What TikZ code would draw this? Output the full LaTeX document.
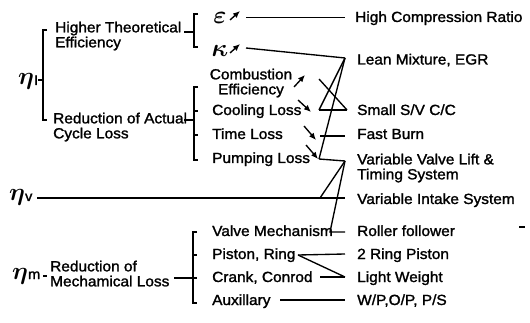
\documentclass[tikz,border=0pt]{standalone}
\usepackage{fontspec}
\setmainfont{Liberation Sans}[FakeBold=1.5, FakeStretch=1.05]
\usetikzlibrary{arrows.meta}
\begin{document}
\begin{tikzpicture}[x=1pt,y=-1pt,
  lbl/.style={inner sep=0pt, anchor=base west, font=\fontsize{14.7}{14.7}\selectfont},
  two/.style={inner sep=0pt, anchor=north west, align=left, font=\fontsize{14.7}{15}\selectfont},
  ln/.style={line width=1.35pt},
  arr/.style={line width=1.35pt, -{Latex[length=7pt,width=6pt]}},
  etanode/.style={inner sep=0pt, anchor=base west},
  greek/.style={inner sep=0pt, font=\fontsize{25}{25}\selectfont\boldmath}
]
\useasboundingbox (0,0) rectangle (530,323);

% ---------- eta_i ----------
\node[etanode] (etai) at (18,85) {{\fontsize{24}{24}\selectfont\boldmath$\eta$}{\fontsize{14}{14}\selectfont I}};
\coordinate (etaiT) at (38,80);
\coordinate (b1m) at (43,80);
\coordinate (b1t) at (43,30);
\coordinate (b1tt) at (47,30);
\coordinate (b1b) at (43,120);
\coordinate (b1bb) at (47,120);
\draw[ln] (etaiT) -- (b1m);
\draw[ln] (b1tt) -- (b1t) -- (b1b) -- (b1bb);

\node[two] (hte) at (55,21.5) {Higher Theoretical\\Efficiency};
\coordinate (hteT) at (184,32);
\coordinate (b2m) at (194,32);
\coordinate (b2t) at (194,14);
\coordinate (b2tt) at (198,14);
\coordinate (b2b) at (194,47);
\coordinate (b2bb) at (198,47);
\draw[ln] (hteT) -- (b2m);
\draw[ln] (b2tt) -- (b2t) -- (b2b) -- (b2bb);

\node[greek] (eps) at (220,18) {$\varepsilon$};
\node[greek] (kap) at (220,51) {$\kappa$};
\coordinate (epsA0) at (230,20);
\coordinate (epsA1) at (240,11);
\coordinate (kapA0) at (230,53);
\coordinate (kapA1) at (240,44);
\draw[arr] (epsA0) -- (epsA1);
\draw[arr] (kapA0) -- (kapA1);

\node[lbl] (hcr) at (355,22) {High Compression Ratio};
\node[lbl] (lean) at (357,64.5) {Lean Mixture, EGR};
\coordinate (epsL) at (246,17.5);
\coordinate (hcrL) at (345,17.5);
\draw[ln] (epsL) -- (hcrL);
\coordinate (kapL) at (246,48);
\coordinate (T) at (345,58);
\draw[ln] (kapL) -- (T);

% ---------- actual cycle loss ----------
\node[two] (roa) at (53,112.5) {Reduction of Actual\\Cycle Loss};
\coordinate (roaT) at (184,120);
\coordinate (b3m) at (194,120);
\coordinate (b3t) at (194,87);
\coordinate (b3tt) at (198,87);
\coordinate (b3b) at (194,160);
\coordinate (b3bb) at (198,160);
\coordinate (b3c) at (194,111);
\coordinate (b3cc) at (198,111);
\coordinate (b3d) at (194,135);
\coordinate (b3dd) at (198,135);
\draw[ln] (roaT) -- (b3m);
\draw[ln] (b3tt) -- (b3t) -- (b3b) -- (b3bb);
\draw[ln] (b3c) -- (b3cc);
\draw[ln] (b3d) -- (b3dd);

\node[inner sep=0pt, anchor=north, align=center, font=\fontsize{14.7}{15}\selectfont] (ce) at (251,68.5) {Combustion\\Efficiency};
\node[lbl] (cool) at (212,115) {Cooling Loss};
\node[lbl] (time) at (212,139) {Time Loss};
\node[lbl] (pump) at (212,163) {Pumping Loss};

\coordinate (ceA0) at (294,87);
\coordinate (ceA1) at (305,75);
\coordinate (coA0) at (298,100);
\coordinate (coA1) at (311,112);
\coordinate (tiA0) at (304,126);
\coordinate (tiA1) at (316,140);
\coordinate (puA0) at (306,145);
\coordinate (puA1) at (318,159);
\draw[arr] (ceA0) -- (ceA1);
\draw[arr] (coA0) -- (coA1);
\draw[arr] (tiA0) -- (tiA1);
\draw[arr] (puA0) -- (puA1);

\coordinate (TL) at (319,110);
\coordinate (TR) at (347,110);
\coordinate (X1) at (319,79);
\coordinate (PC) at (319,159);
\coordinate (PR) at (345,161);
\coordinate (TiL) at (320,136);
\coordinate (TiR) at (345,136);
\draw[ln] (T) -- (TL);
\draw[ln] (T) -- (PC);
\draw[ln] (X1) -- (TR);
\draw[ln] (TL) -- (TR);
\draw[ln] (TiL) -- (TiR);
\draw[ln] (PC) -- (PR);

\node[lbl] (ssv) at (357,115) {Small S/V C/C};
\node[lbl] (fast) at (357,139) {Fast Burn};
\node[two] (vvl) at (357,153.5) {Variable Valve Lift \&\\Timing System};

% ---------- eta_v ----------
\node[etanode] (etav) at (9,201) {{\fontsize{24}{24}\selectfont\boldmath$\eta$}{\fontsize{14}{14}\selectfont v}};
\coordinate (etavL) at (37,198);
\coordinate (etavR) at (345,198);
\coordinate (V) at (320,198);
\draw[ln] (etavL) -- (etavR);
\draw[ln] (PR) -- (V);
\node[lbl] (vis) at (357,204) {Variable Intake System};

\coordinate (VM) at (330,232);
\coordinate (VR) at (345,232);
\draw[ln] (PR) -- (VM) -- (VR);

% ---------- eta_m ----------
\node[etanode] (etam) at (12,279) {{\fontsize{24}{24}\selectfont\boldmath$\eta$}{\fontsize{14}{14}\selectfont m}};
\coordinate (etamT0) at (43,276);
\coordinate (etamT1) at (47,276);
\draw[ln] (etamT0) -- (etamT1);
\node[two] (rml) at (50,260.5) {Reduction of\\Mechamical Loss};
\coordinate (rmlT) at (174,278);
\coordinate (b4m) at (193,278);
\coordinate (b4t) at (193,232);
\coordinate (b4tt) at (197,232);
\coordinate (b4b) at (193,303);
\coordinate (b4bb) at (197,303);
\coordinate (b4p) at (193,255);
\coordinate (b4pp) at (197,255);
\coordinate (b4cc) at (197,278);
\draw[ln] (rmlT) -- (b4m) -- (b4cc);
\draw[ln] (b4tt) -- (b4t) -- (b4b) -- (b4bb);
\draw[ln] (b4p) -- (b4pp);

\node[lbl] (valve) at (212,236) {Valve Mechanism};
\node[lbl] (piston) at (212,259) {Piston, Ring};
\node[lbl] (crank) at (212,282) {Crank, Conrod};
\node[lbl] (aux) at (212,305) {Auxillary};

\node[lbl] (roller) at (357,236) {Roller follower};
\node[lbl] (ring2) at (357,259) {2 Ring Piston};
\node[lbl] (light) at (357,282) {Light Weight};
\node[lbl] (wp) at (357,305) {W/P,O/P, P/S};

\coordinate (P1) at (298,255);
\coordinate (P2) at (345,254);
\coordinate (L2) at (345,277);
\coordinate (C1) at (320,277);
\coordinate (A1) at (280,300);
\coordinate (A2) at (345,300);
\draw[ln] (P1) -- (P2);
\draw[ln] (P1) -- (L2);
\draw[ln] (C1) -- (L2);
\draw[ln] (A1) -- (A2);

\coordinate (s0) at (519,227);
\coordinate (s1) at (525,227);
\draw[ln] (s0) -- (s1);
\end{tikzpicture}
\end{document}
